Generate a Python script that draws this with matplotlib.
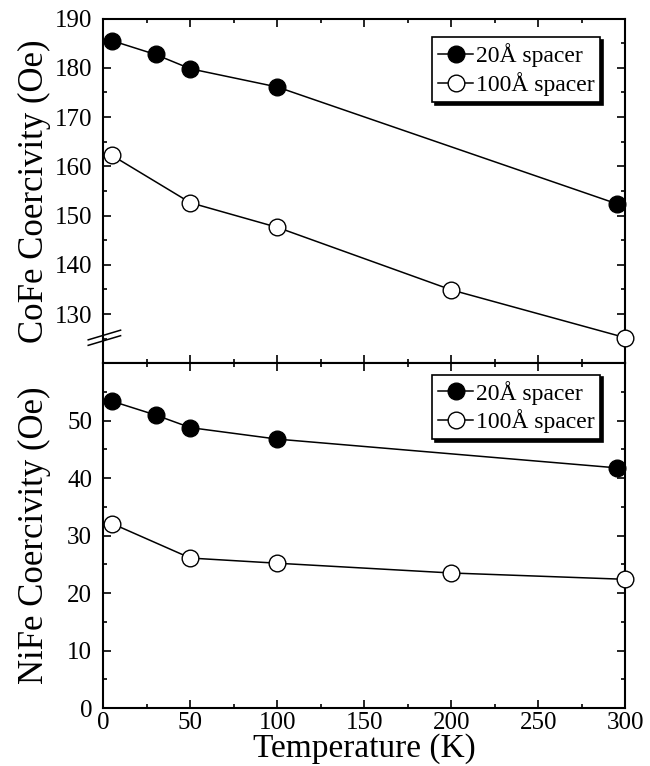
import matplotlib.pyplot as plt
from matplotlib.ticker import MultipleLocator

plt.rcParams['font.family'] = ['Liberation Serif', 'DejaVu Serif']
plt.rcParams['mathtext.fontset'] = 'stix'

# CoFe coercivity (Oe) vs temperature (K)
cofe_t20 = [5, 30, 50, 100, 295]
cofe_h20 = [185.5, 182.7, 179.8, 176.1, 152.4]
cofe_t100 = [5, 50, 100, 200, 300]
cofe_h100 = [162.2, 152.6, 147.6, 134.9, 125.2]

# NiFe coercivity (Oe) vs temperature (K)
nife_t20 = [5, 30, 50, 100, 295]
nife_h20 = [53.4, 51.0, 48.8, 46.8, 41.8]
nife_t100 = [5, 50, 100, 200, 300]
nife_h100 = [32.1, 26.1, 25.2, 23.5, 22.4]

labels = ['20Å spacer', '100Å spacer']
cofe_ticks = [130, 140, 150, 160, 170, 180, 190]
nife_ticks = [0, 10, 20, 30, 40, 50]


def style_axis(ax):
    ax.set_xlim(0, 300)
    ax.xaxis.set_major_locator(MultipleLocator(50))
    ax.xaxis.set_minor_locator(MultipleLocator(25))
    ax.yaxis.set_minor_locator(MultipleLocator(5))
    ax.tick_params(which='both', direction='in', top=True, right=True,
                   width=1.2, labelsize=18)
    ax.tick_params(which='major', length=6)
    ax.tick_params(which='minor', length=3)
    ax.tick_params(axis='y', pad=8)
    ax.tick_params(axis='x', pad=3)
    for s in ax.spines.values():
        s.set_linewidth(1.5)


def draw_series(ax, t20, h20, t100, h100, anchor):
    ax.plot(t20, h20, '-o', color='black', lw=1.1, ms=12,
            mfc='black', mec='black', label=labels[0], clip_on=False, zorder=3)
    ax.plot(t100, h100, '-o', color='black', lw=1.1, ms=12,
            mfc='white', mec='black', mew=1.0, label=labels[1],
            clip_on=False, zorder=3)
    leg = ax.legend(loc='upper right', bbox_to_anchor=anchor, borderaxespad=0,
                    fontsize=17, fancybox=False, edgecolor='black',
                    framealpha=1, handlelength=1.5, handletextpad=0.1,
                    borderpad=0.25, labelspacing=0.2,
                    shadow={'color': 'black', 'alpha': 1})
    leg.get_frame().set_linewidth(1.2)
    leg.set_zorder(5)


fig = plt.figure(figsize=(6.5, 7.66), dpi=100)
gs = fig.add_gridspec(2, 1, left=0.159, right=0.962, top=0.9758,
                      bottom=0.0757, hspace=0)
ax1 = fig.add_subplot(gs[0])
ax2 = fig.add_subplot(gs[1], sharex=ax1)

draw_series(ax1, cofe_t20, cofe_h20, cofe_t100, cofe_h100, (0.952, 0.945))
draw_series(ax2, nife_t20, nife_h20, nife_t100, nife_h100, (0.952, 0.967))

style_axis(ax1)
style_axis(ax2)
ax1.set_ylim(120, 190)
ax1.set_yticks(cofe_ticks)
ax2.set_ylim(0, 60)
ax2.set_yticks(nife_ticks)
ax1.tick_params(axis='x', labelbottom=False)

ax1.set_ylabel('CoFe Coercivity (Oe)', fontsize=25, labelpad=3)
ax2.set_ylabel('NiFe Coercivity (Oe)', fontsize=25, labelpad=3)
ax2.set_xlabel('Temperature (K)', fontsize=24, labelpad=-1)
fig.align_ylabels([ax1, ax2])

# axis break mark on the left spine of the upper panel
for dy in (0.0, 0.016):
    ax1.plot([-0.029, 0.033], [0.052 + dy, 0.08 + dy], color='black',
             lw=1.1, transform=ax1.transAxes, clip_on=False)

fig.savefig('out.png', dpi=100)
